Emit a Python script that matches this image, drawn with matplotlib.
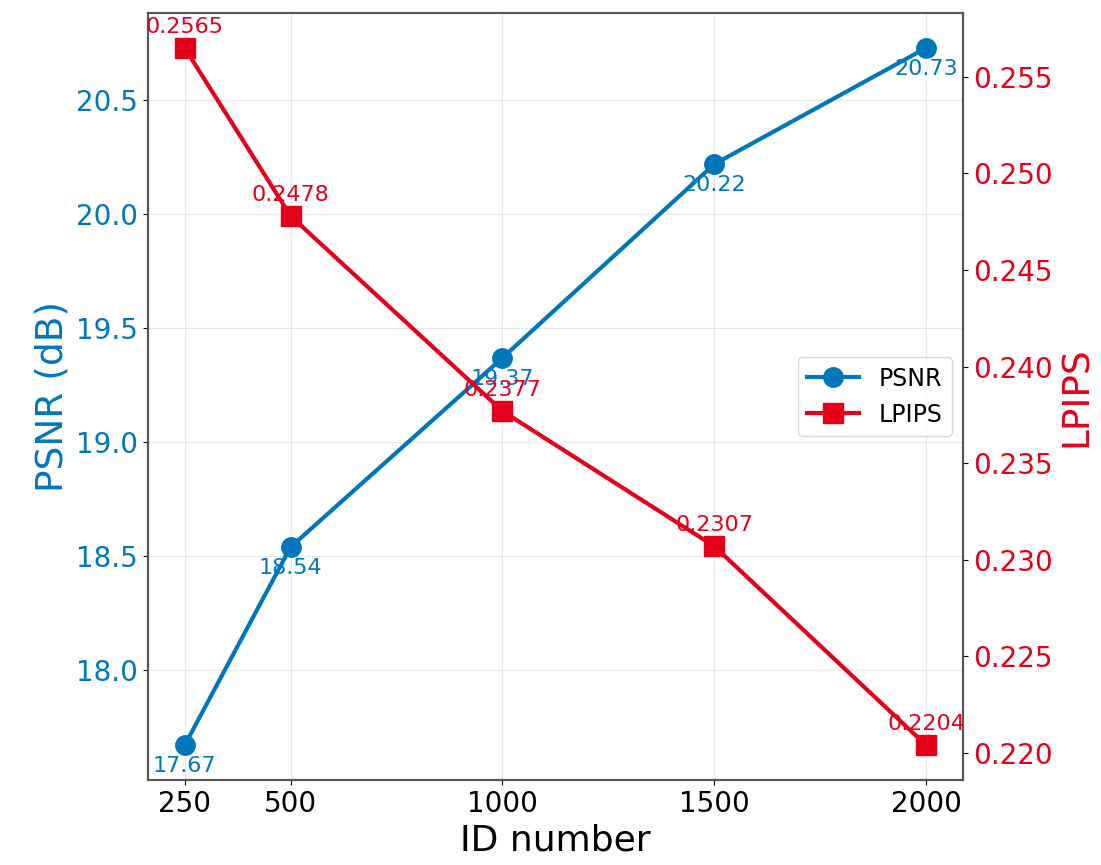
import numpy as np
import matplotlib
matplotlib.use("Agg")
import matplotlib.pyplot as plt

# data
id_numbers = [250, 500, 1000, 1500, 2000]
psnr = [17.67, 18.54, 19.37, 20.22, 20.73]
lpips = [0.2565, 0.2478, 0.2377, 0.2307, 0.2204]

c_psnr = "#0077BB"
c_lpips = "#E5001A"

fig = plt.figure(figsize=(11.01, 8.65), dpi=100)
ax1 = fig.add_axes([0.134, 0.098, 0.741, 0.887])
ax2 = ax1.twinx()

l1, = ax1.plot(id_numbers, psnr, color=c_psnr, marker="o", markersize=14,
               linewidth=3, label="PSNR", zorder=3)
l2, = ax2.plot(id_numbers, lpips, color=c_lpips, marker="s", markersize=14,
               linewidth=3, label="LPIPS", zorder=3)

# value labels (the 19.37 / 0.2377 overlap is in the original too)
for x, y in zip(id_numbers, psnr):
    ax1.annotate(f"{y:.2f}", (x, y), xytext=(0, -8), textcoords="offset points",
                 ha="center", va="top", fontsize=16, color=c_psnr)
for x, y in zip(id_numbers, lpips):
    ax2.annotate(f"{y:.4f}", (x, y), xytext=(0, 8), textcoords="offset points",
                 ha="center", va="bottom", fontsize=16, color=c_lpips)

ax1.set_xticks(id_numbers)
ax1.set_xlabel("ID number", fontsize=26)
ax1.set_ylabel("PSNR (dB)", fontsize=27, color=c_psnr)
ax2.set_ylabel("LPIPS", fontsize=27, color=c_lpips)

ax1.tick_params(axis="x", labelsize=20)
ax1.tick_params(axis="y", labelsize=20, labelcolor=c_psnr)
ax2.tick_params(axis="y", labelsize=20, labelcolor=c_lpips)

ax1.grid(True, alpha=0.3)
for ax in (ax1, ax2):
    for s in ax.spines.values():
        s.set_color("#555555")
        s.set_linewidth(1.5)

ax1.legend([l1, l2], ["PSNR", "LPIPS"], loc="center right", fontsize=17,
           handlelength=2.2)

fig.savefig("out.png", dpi=100)
